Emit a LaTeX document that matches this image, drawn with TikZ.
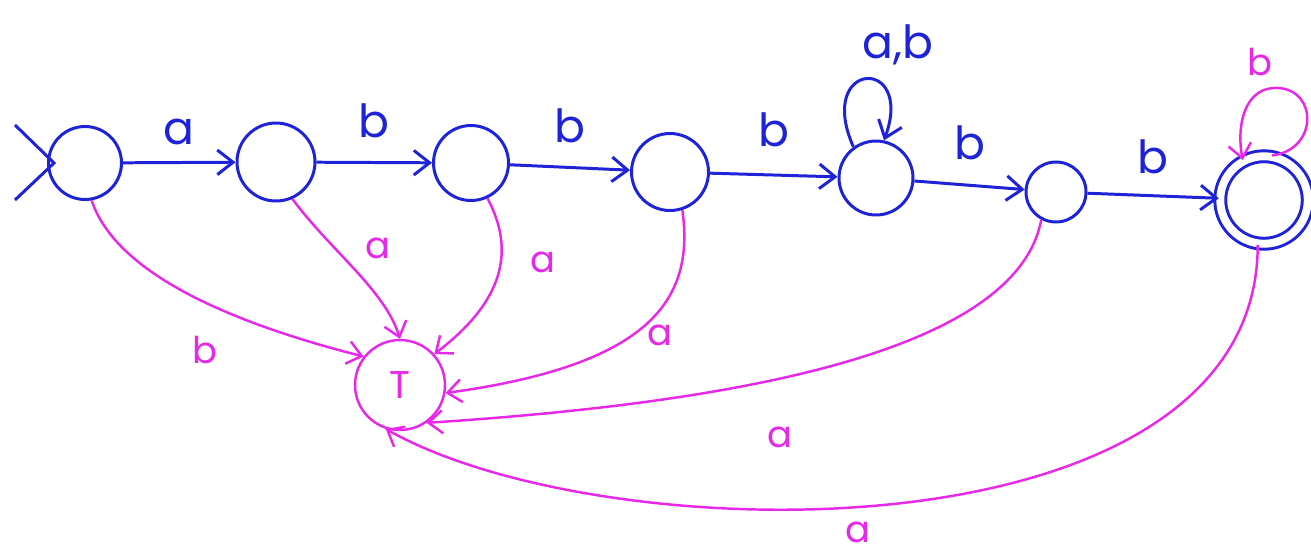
\documentclass[tikz,border=0pt]{standalone}
\usepackage{fontspec}
\setmainfont{Poppins}
\usetikzlibrary{arrows.meta}
\definecolor{pen}{RGB}{30,35,215}
\definecolor{mag}{RGB}{232,40,232}
\begin{document}
\begin{tikzpicture}[x=0.02cm,y=-0.02cm,
  state/.style={draw=pen,circle,line width=1.7pt,inner sep=0pt},
  bl/.style={draw=pen,line width=1.7pt,-{Straight Barb[length=9pt,width=14pt,line width=1.7pt]}},
  mg/.style={draw=mag,line width=1.4pt,-{Straight Barb[length=8pt,width=13pt,line width=1.4pt]}},
  blab/.style={text=pen,font=\fontsize{26}{30}\selectfont},
  mlab/.style={text=mag,font=\fontsize{21}{24}\selectfont}]
\useasboundingbox (0,0) rectangle (1311,555);
% states
\node[state,minimum size=1.46cm] (q0) at (85,163) {};
\node[state,minimum size=1.56cm] (q1) at (276,162) {};
\node[state,minimum size=1.50cm] (q2) at (471,163) {};
\node[state,minimum size=1.54cm] (q3) at (670,172) {};
\node[state,minimum size=1.48cm] (q4) at (876,178) {};
\node[state,minimum size=1.20cm] (q5) at (1056,192) {};
\node[state,minimum size=1.75cm,double=white,double distance=4.5pt] (q6) at (1264,200) {};
\node[draw=mag,circle,line width=1.4pt,minimum size=1.80cm,text=mag,font=\fontsize{22}{24}\selectfont] (T) at (400,385) {T};
% start marker
\coordinate (s1) at (15,125);
\coordinate (s2) at (15,200);
\draw[pen,line width=1.7pt] (s1) -- ([xshift=4pt]q0.west) -- (s2);
% blue transitions
\draw[bl] (q0) -- (q1) node[midway,above=6pt,blab] {a};
\draw[bl] (q1) -- (q2) node[midway,above=10pt,blab] {b};
\draw[bl] (q2) -- (q3) node[midway,above=10pt,blab] {b};
\draw[bl] (q3) -- (q4) node[midway,above=12pt,blab] {b};
\draw[bl] (q4.126) .. controls (815,60) and (915,55) .. (q4.78);
\node[blab] (lab) at (898,45) {a,b};
\draw[bl] (q4) -- (q5) node[midway,above=10pt,blab] {b};
\draw[bl] (q5) -- (q6) node[midway,above=8pt,blab] {b};
% magenta transitions
\coordinate (lt) at (1278,88);
\draw[mg] (q6.80) .. controls (1318,150) and (1318,90) .. (lt) .. controls (1245,86) and (1236,125) .. (q6.118);
\node[mlab] (lb6) at (1260,62) {b};
\draw[mg] (q0.-80) .. controls (115,270) and (220,320) .. (T.142);
\node[mlab] (lb0) at (205,350) {b};
\draw[mg] (q1.-66) .. controls (330,250) and (385,290) .. (T.90);
\node[mlab] (la1) at (378,248) {a};
\draw[mg] (q2.-65) .. controls (515,250) and (505,300) .. (T.42);
\node[mlab] (la2) at (543,262) {a};
\draw[mg] (q3.-72) .. controls (695,300) and (650,365) .. (T.-10);
\node[mlab] (la3) at (660,335) {a};
\draw[mg] (q5.-118) .. controls (1015,360) and (700,405) .. (T.-55);
\node[mlab] (la5) at (780,437) {a};
\draw[mg] (q6.-98) .. controls (1258,560) and (610,555) .. (T.-108);
\node[mlab] (la6) at (858,532) {a};
\end{tikzpicture}
\end{document}
